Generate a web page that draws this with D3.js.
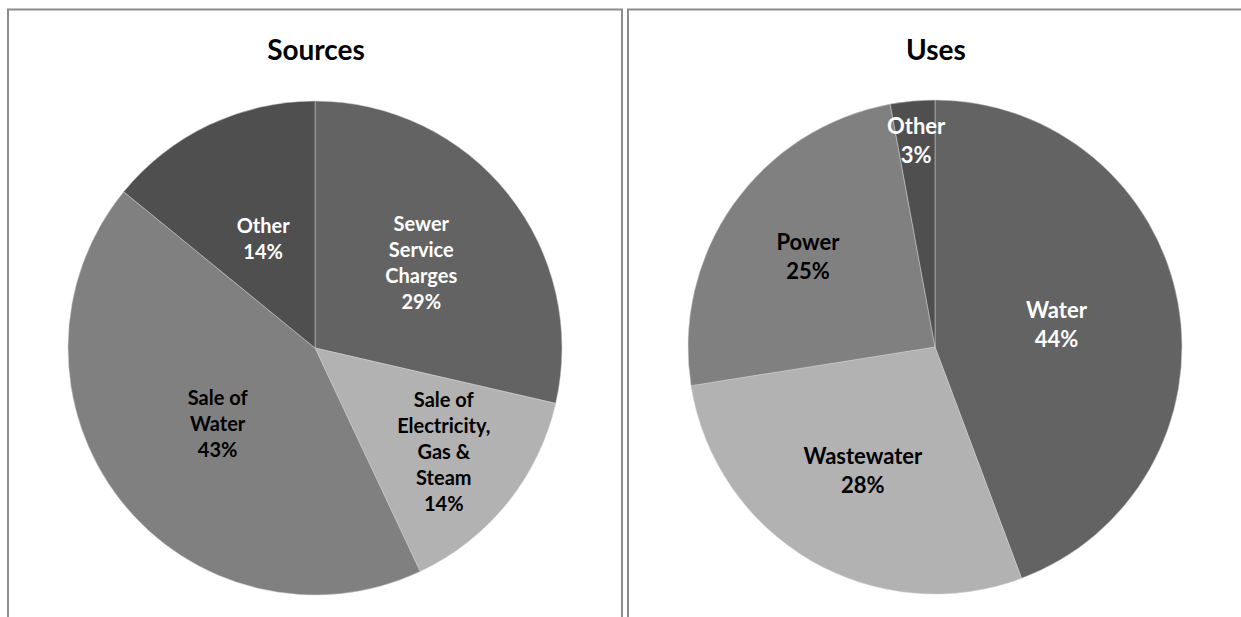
<!DOCTYPE html>
<html>
<head>
<meta charset="utf-8">
<script src="https://cdn.jsdelivr.net/npm/d3@7"></script>
<style>
  body { margin: 0; background: #fff; }
  svg { display: block; font-family: Lato, 'Open Sans', sans-serif; }
</style>
</head>
<body>
<svg id="chart"></svg>
<script>
// data (percent shares, clockwise from 12 o'clock)
const sourceCategories = ['Sewer\nService\nCharges', 'Sale of\nElectricity,\nGas &\nSteam', 'Sale of\nWater', 'Other'];
const sourceValues = [28.6, 14.4, 42.9, 14.1];
const useCategories = ['Water', 'Wastewater', 'Power', 'Other'];
const useValues = [44.3, 28.2, 24.6, 2.9];
const sliceColors = ['#636363', '#b2b2b2', '#808080', '#4f4f4f'];

const W = 1241, H = 617;
const svg = d3.select('#chart').attr('width', W).attr('height', H);

const panels = [
  { title: 'Sources', cats: sourceCategories, vals: sourceValues,
    frame: 'M8,617V9.5H622V617', cx: 315, cy: 348, r: 247,
    font: 20, lh: 26, labelR: [0.55, 0.67, 0.5, 0.49] },
  { title: 'Uses', cats: useCategories, vals: useValues,
    frame: 'M628,617V9.5H1241', cx: 935, cy: 347, r: 247,
    font: 22, lh: 29, labelR: [0.5, 0.58, 0.63, 0.84] }
];

const pie = d3.pie().sort(null).value(d => d);

panels.forEach(p => {
  svg.append('path')
    .attr('d', p.frame)
    .attr('fill', 'none')
    .attr('stroke', '#8c8c8c')
    .attr('stroke-width', 2);

  svg.append('text')
    .attr('x', p.cx + 1)
    .attr('y', 60)
    .attr('text-anchor', 'middle')
    .attr('font-weight', 'bold')
    .attr('font-size', 28)
    .attr('fill', '#000')
    .text(p.title);

  const total = d3.sum(p.vals);
  const arcs = pie(p.vals);
  const arc = d3.arc().innerRadius(0).outerRadius(p.r);
  const g = svg.append('g').attr('transform', `translate(${p.cx},${p.cy})`);

  g.selectAll('path.slice')
    .data(arcs)
    .join('path')
    .attr('class', 'slice')
    .attr('d', arc)
    .attr('fill', (d, i) => sliceColors[i])
    .attr('stroke', '#d0d0d0')
    .attr('stroke-width', 0.5);

  const labels = g.selectAll('text.lbl')
    .data(arcs)
    .join('text')
    .attr('class', 'lbl')
    .attr('text-anchor', 'middle')
    .attr('font-weight', 'bold')
    .attr('font-size', p.font)
    .attr('fill', (d, i) => d3.hsl(sliceColors[i]).l < 0.45 ? '#fff' : '#000');

  labels.each(function (d, i) {
    const lr = p.r * p.labelR[i];
    const c = d3.arc().innerRadius(lr).outerRadius(lr).centroid(d);
    const lines = p.cats[i].split('\n').concat(Math.round(d.value / total * 100) + '%');
    const y0 = c[1] - (lines.length - 1) * p.lh / 2;
    d3.select(this).selectAll('tspan')
      .data(lines)
      .join('tspan')
      .attr('x', c[0])
      .attr('y', (t, j) => y0 + j * p.lh)
      .attr('dy', '0.35em')
      .text(t => t);
  });
});
</script>
</body>
</html>
